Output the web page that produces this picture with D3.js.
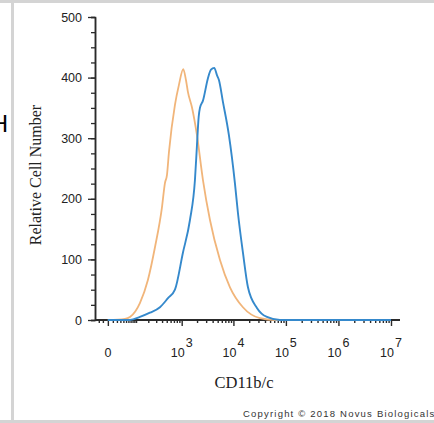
<!DOCTYPE html>
<html>
<head>
<meta charset="utf-8">
<script src="https://cdn.jsdelivr.net/npm/d3@7"></script>
<style>
  body { margin: 0; background: #fff; }
  svg { display: block; }
</style>
</head>
<body>
<svg id="chart" width="434" height="423"></svg>
<script>
// fluorescence value (CD11b/c) and relative cell count
let isoX = [0, 46, 67, 126, 196, 282, 398, 459, 505, 555, 734, 882, 1074, 1214, 1329, 1591, 1991, 2603, 3554, 5531, 8594, 15200, 32060, 61900, 1e7]
let isoY = [0, 2, 5, 28, 66, 120, 186, 226, 239, 277, 355, 388, 414, 396, 376, 351, 305, 231, 165, 99, 54, 21, 3, 0, 0]

let cdX = [0, 67, 126, 218, 361, 530, 734, 1058, 1455, 1820, 1991, 2150, 2276, 2603, 3249, 3714, 4296, 4838, 5282, 6300, 8200, 10680, 12190, 15200, 18940, 28100, 43540, 77100, 1e7]
let cdY = [0, 0, 5, 12, 21, 36, 50, 111, 165, 231, 288, 335, 350, 362, 399, 413, 416, 404, 396, 360, 305, 226, 177, 111, 54, 20, 5, 0, 0]

let yMajor = [0, 100, 200, 300, 400, 500]
let yMinor = d3.range(0, 501, 25)
let xMajor = [0, 1e3, 1e4, 1e5, 1e6, 1e7]
let xExp = ["", "3", "4", "5", "6", "7"]
let xMinor = [-20, -10, 10, 20, 30, 40, 50, 60, 70, 80, 90, 100, 200, 300, 400, 500, 600, 700, 800, 900]
  .concat(d3.range(2, 10).map(d => d * 1e3), d3.range(2, 10).map(d => d * 1e4),
    d3.range(2, 10).map(d => d * 1e5), d3.range(2, 10).map(d => d * 1e6))

let svg = d3.select("#chart")

// frame of the screenshot
svg.append("rect").attr("x", 0).attr("y", 0).attr("width", 434).attr("height", 3).attr("fill", "#d4d4d4")
svg.append("rect").attr("x", 0).attr("y", 420).attr("width", 434).attr("height", 3).attr("fill", "#d4d4d4")
svg.append("rect").attr("x", 11).attr("y", 0).attr("width", 3).attr("height", 423).attr("fill", "#d4d4d4")
svg.append("text").attr("x", 8).attr("y", 132)
  .attr("text-anchor", "end")
  .style("font-family", "Liberation Sans, Arial, sans-serif")
  .style("font-size", "24px")
  .text("H")

let x = d3.scaleSymlog().constant(41)
  .domain([-31, 1e7])
  .range([95, 391])

let y = d3.scaleLinear()
  .domain([0, 500])
  .range([320, 17])

let axisColor = "#2a2a2a"
let sans = "Liberation Sans, Arial, sans-serif"
let serif = "Liberation Serif, Times New Roman, serif"

// y axis
let yAxisG = svg.append("g").attr("transform", "translate(95,0)")
yAxisG.call(d3.axisLeft(y).tickValues(yMinor).tickSize(4).tickFormat(""))
yAxisG.append("g").call(d3.axisLeft(y).tickValues(yMajor).tickSize(7).tickSizeOuter(0).tickFormat(d3.format("d")))
yAxisG.selectAll("path.domain").attr("stroke", axisColor).attr("stroke-width", 1.5)
yAxisG.selectAll("line").attr("stroke", axisColor).attr("stroke-width", 1.3)
yAxisG.selectAll("text")
  .attr("x", -13)
  .attr("fill", "#222")
  .style("font-family", sans)
  .style("font-size", "12.5px")

// x axis
let xAxisG = svg.append("g").attr("transform", "translate(0,320)")
xAxisG.call(d3.axisBottom(x).tickValues(xMinor).tickSize(3).tickSizeOuter(0).tickFormat(""))
xAxisG.append("g").call(d3.axisBottom(x).tickValues(xMajor).tickSize(6).tickSizeOuter(0).tickFormat(""))
xAxisG.selectAll("path.domain").remove()
xAxisG.selectAll("line").attr("stroke", axisColor).attr("stroke-width", 1.4)
xAxisG.append("line")
  .attr("x1", x.range()[0]).attr("x2", x.range()[1] + 9)
  .attr("stroke", axisColor).attr("stroke-width", 2)

let xLab = xAxisG.selectAll(".xlab")
  .data(xMajor)
  .enter()
  .append("text")
  .attr("class", "xlab")
  .attr("transform", d => "translate(" + x(d) + ",37)")
  .attr("text-anchor", "middle")
  .attr("fill", "#222")
  .style("font-family", sans)
  .style("font-size", "12.5px")
xLab.append("tspan").text((d, i) => i == 0 ? "0" : "10")
xLab.append("tspan")
  .attr("dy", -10)
  .attr("dx", 1)
  .text((d, i) => xExp[i])

// histograms
let line = d3.line()
  .x(d => x(d[0]))
  .y(d => y(d[1]))
  .curve(d3.curveMonotoneX)

svg.append("path")
  .datum(isoX.map((v, i) => [v, isoY[i]]))
  .attr("d", line)
  .attr("fill", "none")
  .attr("stroke", "#f1b57a")
  .attr("stroke-width", 1.8)

svg.append("path")
  .datum(cdX.map((v, i) => [v, cdY[i]]))
  .attr("d", line)
  .attr("fill", "none")
  .attr("stroke", "#3589cc")
  .attr("stroke-width", 1.9)

// titles
svg.append("text")
  .attr("transform", "translate(41,175) rotate(-90)")
  .attr("text-anchor", "middle")
  .attr("fill", "#222")
  .style("font-family", serif)
  .style("font-size", "16px")
  .text("Relative Cell Number")

svg.append("text")
  .attr("x", 244).attr("y", 388)
  .attr("text-anchor", "middle")
  .attr("fill", "#222")
  .style("font-family", serif)
  .style("font-size", "16.5px")
  .text("CD11b/c")

svg.append("text")
  .attr("x", 243).attr("y", 417)
  .attr("fill", "#333")
  .style("font-family", sans)
  .style("font-size", "9.5px")
  .style("letter-spacing", "1.2px")
  .text("Copyright \u00a9 2018 Novus Biologicals")
</script>
</body>
</html>
